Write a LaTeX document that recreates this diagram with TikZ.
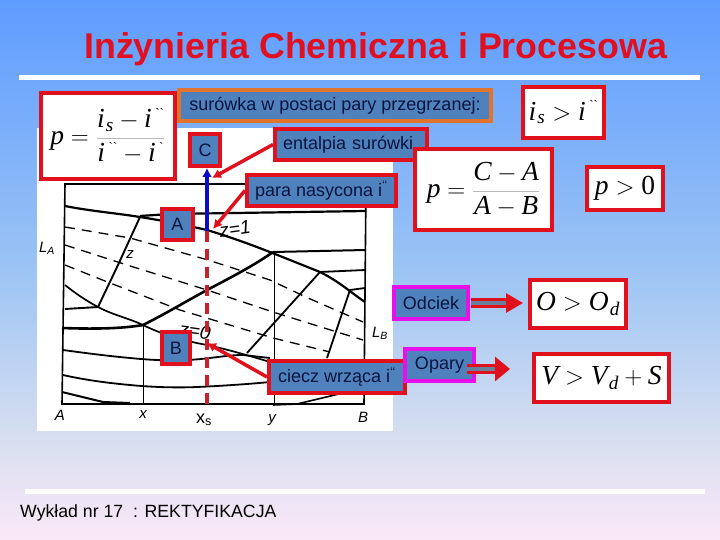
\documentclass[tikz,border=0pt]{standalone}
\usepackage{amsmath}
\usepackage{fontspec}
\setmainfont{Liberation Sans}
\newfontfamily\tms{Liberation Serif}
\usetikzlibrary{arrows.meta}
\definecolor{boxblue}{HTML}{4F81BD}
\definecolor{rd}{HTML}{E0101C}
\definecolor{mag}{HTML}{E810E8}
\definecolor{org}{HTML}{E0742C}
\definecolor{ink}{HTML}{0A1440}
\definecolor{dashred}{HTML}{C8202C}
\definecolor{gA}{HTML}{5E9CFF}\definecolor{gB}{HTML}{9CC4F4}\definecolor{gC}{HTML}{D8DFF0}\definecolor{gD}{HTML}{FBE8F8}
\newcommand{\mi}[1]{\text{\tms\itshape #1}}
\newcommand{\dpr}{^{\,\text{\tms\fontsize{13}{13}\selectfont`{}`}}}
\newcommand{\spr}{^{\,\text{\tms\fontsize{13}{13}\selectfont`}}}
\newcommand{\subs}[1]{_{\mkern1mu\mi{#1}}}
\newcommand{\grayfrac}[2]{\textcolor{gray!55}{\dfrac{\textcolor{black}{#1}}{\textcolor{black}{#2}}}}
\tikzset{
 x=1pt,y=-1pt,
 lab/.style={draw=rd,line width=4pt,fill=boxblue,text=ink,inner sep=0pt,font=\fontsize{18}{20}\selectfont,anchor=center},
 formula/.style={draw=rd,line width=4pt,fill=white,inner sep=0pt,anchor=center,font=\fontsize{27.5}{30}\selectfont},
 curve/.style={line width=1.4pt,black},
 thickcurve/.style={line width=2.6pt,black},
 dashcurve/.style={line width=1.3pt,black,dash pattern=on 10pt off 7pt},
 ptr/.style={draw=rd,line width=3.5pt,-{Latex[length=9pt,width=10pt]}},
 fat/.style={draw=rd,line width=3pt,double={gray!55!boxblue},double distance=4pt,-{Triangle[length=17pt,width=19pt]}},
 hand/.style={font=\fontsize{15}{15}\itshape\selectfont,text=black,inner sep=0pt},
 handbig/.style={font=\fontsize{19}{19}\itshape\selectfont,text=black,inner sep=0pt}
}
\begin{document}
\begin{tikzpicture}
\useasboundingbox (0,0) rectangle (720,540);
\shade[top color=gA,bottom color=gB] (0,0) rectangle (720,270.5);
\shade[top color=gB,bottom color=gC] (0,270) rectangle (720,440.5);
\shade[top color=gC,bottom color=gD] (0,440) rectangle (720,540);
% rules
\fill[white] (19,75) rectangle (700,80);
\fill[white] (25,489) rectangle (705,494);
\node[font=\fontsize{35.8}{40}\bfseries\selectfont,text={rgb,255:red,224;green,16;blue,32},anchor=base west,inner sep=0pt] (title) at (84,59) {Inżynieria Chemiczna i Procesowa};
\node[font=\fontsize{17.7}{20}\selectfont,text=black,anchor=base west,inner sep=0pt] (foot) at (20,517) {Wykład nr 17\ \ : REKTYFIKACJA};
% diagram sheet
\fill[white] (37,128) rectangle (393,431);
% frame and verticals
\draw[curve,line width=1.6pt] (65,184) -- (62,404) -- (364,404) -- (366,184) -- cycle;
\draw[curve,line width=1pt] (143,325) -- (143,404);
\draw[curve,line width=1pt] (274,252) -- (274,404);
% upper curves
\draw[curve,line width=2.2pt] (65,206) .. controls (90,211) and (115,213) .. (140,217) .. controls (165,221) and (185,225) .. (207,230) .. controls (240,240) and (265,250) .. (290,260) -- (320,272) .. controls (340,282) and (350,292) .. (365,302);
\draw[curve,line width=2.2pt] (140,216) -- (170,214) -- (366,211);
\draw[curve,line width=2pt] (273,252) -- (366,250);
\draw[thickcurve] (62,328) .. controls (90,329) and (120,329) .. (143,325) .. controls (165,314) and (185,302) .. (207,290) .. controls (228,279) and (255,265) .. (273,252);
% z lines
\draw[curve,line width=1.9pt] (140,217) -- (118,265) -- (98,307);
\draw[curve,line width=1.9pt] (98,307) -- (65,309);
\draw[curve,line width=1.7pt] (65,285) .. controls (75,293) and (85,300) .. (98,307) .. controls (113,315) and (128,318) .. (143,325) .. controls (165,336) and (190,342) .. (207,345) .. controls (230,350) and (250,356) .. (270,362);
% lower curves
\draw[curve,line width=1.8pt] (63,350) .. controls (85,353) and (108,356) .. (130,358) .. controls (150,360) and (170,361) .. (187,360) .. controls (210,359) and (225,355) .. (243,355) -- (270,358);
\draw[curve,line width=1.8pt] (63,375) .. controls (85,380) and (108,383) .. (130,385) .. controls (150,387) and (175,388) .. (197,387) .. controls (220,386) and (250,384) .. (270,382);
\draw[curve,line width=2pt] (62,392) -- (103,402) -- (130,403);
\draw[curve,line width=1.6pt] (273,405) -- (297,404) -- (343,393) -- (360,389);
% tie lines right
\draw[curve,line width=1.8pt] (247,353) -- (320,272) -- (365,270);
\draw[curve,line width=1.8pt] (327,358) -- (350,290) -- (365,288);
% dashed lines
\draw[dashcurve] (65,227) -- (130,238) -- (208,260) -- (270,280) -- (308,298) -- (363,322);
\draw[dashcurve] (65,245) -- (127,265) -- (207,290) -- (273,312) -- (337,332) -- (363,340);
\draw[dashcurve] (65,265) -- (110,283) -- (180,310) -- (273,338) -- (330,352);
% handwriting
\node[handbig,rotate=8] (zone) at (235,229) {z=1};
\node[hand] (ztwo) at (130,255) {z};
\node[handbig,rotate=-8] (zzero) at (195,331) {z=0};
\node[hand] (la) at (47,248) {L\textsubscript{A}};
\node[hand] (lb) at (380,333) {L\textsubscript{B}};
\node[hand] (aa) at (60,415) {A};
\node[hand] (xx) at (143,415) {x};
\node[hand] (yy) at (272,420) {y};
\node[hand] (bb) at (363,417) {B};
% vertical dashed line and arrow
\coordinate (top) at (207,168);
\coordinate (mid) at (207,231);
\coordinate (low) at (207,406);
\draw[dashred,line width=4pt,dash pattern=on 11pt off 7pt] (mid) -- (low);
\draw[draw={rgb,255:red,10;green,10;blue,200},line width=4pt,-{Latex[length=9pt,width=10pt]}] (mid) -- (top);
\node[font=\fontsize{18}{20}\selectfont,text=black,inner sep=0pt] (xs) at (204,420) {x\textsubscript{s}};
% labels
\node[lab,draw=org,minimum width=312pt,minimum height=31pt] (feed) at (335,105.5) {surówka w postaci pary przegrzanej:};
\node[lab,minimum width=30pt,minimum height=32pt] (C) at (205,150) {C};
\node[lab,minimum width=152pt,minimum height=31pt,text width=136pt,align=left] (ent) at (351,144.5) {entalpia surówki};
\node[lab,minimum width=149pt,minimum height=31pt] (vap) at (321.5,190.5) {para nasycona i\textsuperscript{`{}`}};
\node[lab,minimum width=31pt,minimum height=31pt] (A) at (177.5,224.5) {A};
\node[lab,minimum width=28pt,minimum height=32pt] (B) at (176,348) {B};
\node[lab,minimum width=136pt,minimum height=32pt] (liq) at (337,377) {ciecz wrząca i\textsuperscript{`{}`}};
\node[lab,draw=mag,minimum width=74pt,minimum height=32pt] (odc) at (431,303) {Odciek};
\node[lab,draw=mag,minimum width=69pt,minimum height=32pt] (opa) at (439.5,365) {Opary};
\draw[ptr] (ent.west) -- (212,178);
\draw[ptr] (vap.west) -- (213,229);
\draw[ptr] (liq.west) -- (207,343);
% formulas
\node[formula,minimum width=134pt,minimum height=86pt] (f1) at (108,136) {$\mi{p}=\grayfrac{\mi{i}\subs{s}-\mi{i}\dpr}{\mi{i}\dpr-\mi{i}\spr}$};
\node[formula,minimum width=81pt,minimum height=51pt] (f2) at (563.5,112.5) {$\mi{i}\subs{s}>\mi{i}\dpr$};
\node[formula,minimum width=137pt,minimum height=81pt] (f3) at (483.5,189.5) {$\mi{p}=\grayfrac{\mi{C}-\mi{A}}{\mi{A}-\mi{B}}$};
\node[formula,minimum width=76pt,minimum height=43pt] (f4) at (625,188.5) {$\mi{p}>\text{\tms 0}$};
\node[formula,minimum width=96pt,minimum height=48pt] (f5) at (578,304) {$\mi{O}>\mi{O}\subs{d}$};
\node[formula,minimum width=135pt,minimum height=48pt] (f6) at (601.5,378) {$\mi{V}>\mi{V}\subs{d}+\mi{S}$};
\coordinate (odtip) at (523,303);
\coordinate (optip) at (510,369);
\draw[fat] ([xshift=1pt]odc.east) -- (odtip);
\draw[fat,-{Triangle[length=15pt,width=24pt]}] ([xshift=-9pt,yshift=-4pt]opa.east) -- (optip);
\end{tikzpicture}
\end{document}
